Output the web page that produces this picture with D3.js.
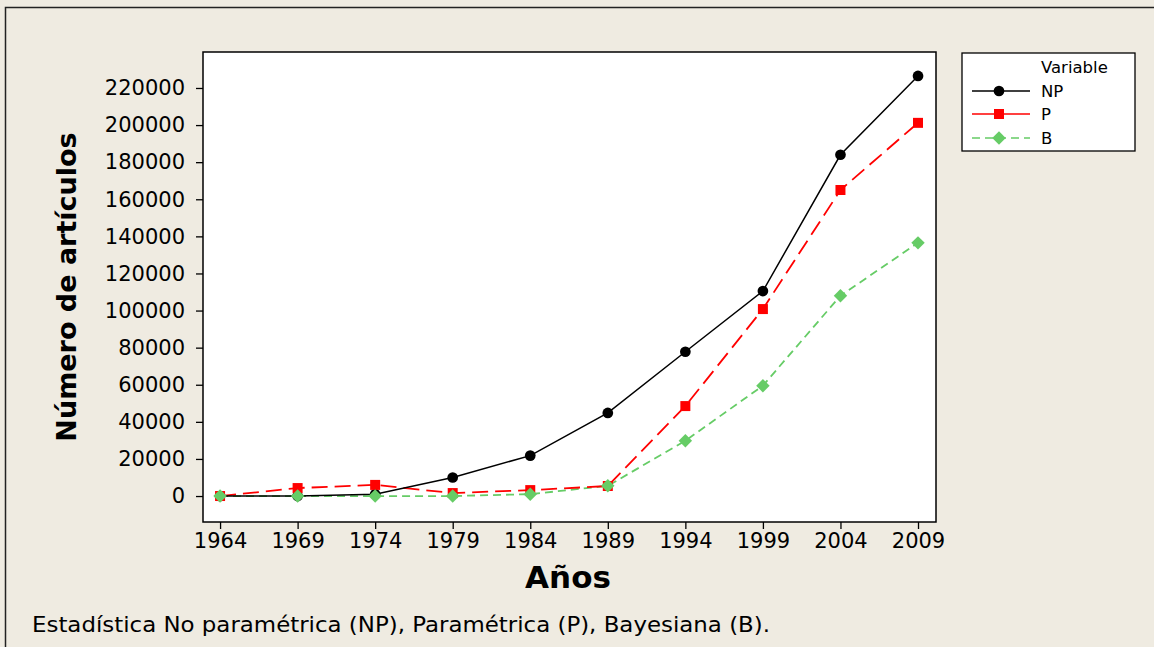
<!DOCTYPE html>
<html>
<head>
<meta charset="utf-8">
<script src="https://cdn.jsdelivr.net/npm/d3@7"></script>
<style>
  html, body { margin: 0; padding: 0; background: #efebe1; }
  svg { display: block; }
  text { font-family: "DejaVu Sans", Verdana, sans-serif; fill: #000; }
</style>
</head>
<body>
<svg id="chart" width="1154" height="647"></svg>
<script>
const years = [1964, 1969, 1974, 1979, 1984, 1989, 1994, 1999, 2004, 2009];
const seriesNames = ["NP", "P", "B"];
const valuesNP = [0, 0, 1000, 10000, 21800, 44800, 77800, 110500, 184000, 226500];
const valuesP  = [0, 4300, 6000, 1600, 3200, 5400, 48500, 100800, 165000, 201200];
const valuesB  = [0, 0, 0, 0, 1000, 5500, 29800, 59500, 108000, 136500];
const yTicks = [0, 20000, 40000, 60000, 80000, 100000, 120000, 140000, 160000, 180000, 200000, 220000];
const xLabel = "Años";
const yLabel = "Número de artículos";
const legendTitle = "Variable";
const caption = "Estadística No paramétrica (NP), Paramétrica (P), Bayesiana (B).";

const svg = d3.select("#chart");
const W = 1154, H = 647;

// outer frame (open at right/bottom as cropped)
svg.append("rect").attr("x", 0).attr("y", 0).attr("width", W).attr("height", H).attr("fill", "#efebe1");
svg.append("path").attr("d", `M5.5,${H} L5.5,7.5 L${W},7.5`).attr("fill", "none").attr("stroke", "#222").attr("stroke-width", 1.5);

const plot = { left: 203, top: 52, right: 936, bottom: 522 };
svg.append("rect").attr("x", plot.left).attr("y", plot.top)
  .attr("width", plot.right - plot.left).attr("height", plot.bottom - plot.top)
  .attr("fill", "#fff").attr("stroke", "#000").attr("stroke-width", 1.5);

const x = d3.scaleLinear().domain([1962.9, 2010.16]).range([plot.left, plot.right]);
const y = d3.scaleLinear().domain([-14000, 239400]).range([plot.bottom, plot.top]);

// axes
const xAxis = d3.axisBottom(x).tickValues(years).tickFormat(d3.format("d")).tickSize(7).tickPadding(4);
const gx = svg.append("g").attr("transform", `translate(0,${plot.bottom})`).call(xAxis);
gx.select(".domain").remove();
gx.selectAll("line").attr("stroke", "#000").attr("stroke-width", 1.3);
gx.selectAll("text").attr("font-size", 21).attr("font-family", "DejaVu Sans, Verdana, sans-serif").attr("fill", "#000");

const yAxis = d3.axisLeft(y).tickValues(yTicks).tickFormat(d3.format("d")).tickSize(7).tickPadding(11);
const gy = svg.append("g").attr("transform", `translate(${plot.left},0)`).call(yAxis);
gy.select(".domain").remove();
gy.selectAll("line").attr("stroke", "#000").attr("stroke-width", 1.3);
gy.selectAll("text").attr("font-size", 21).attr("font-family", "DejaVu Sans, Verdana, sans-serif").attr("fill", "#000");

// axis titles
svg.append("text").attr("x", 568).attr("y", 588)
  .attr("text-anchor", "middle").attr("font-size", 31).attr("font-weight", "bold").text(xLabel);
svg.append("text").attr("transform", `translate(76,287) rotate(-90)`)
  .attr("text-anchor", "middle").attr("font-size", 27).attr("font-weight", "bold").text(yLabel);

// caption
svg.append("text").attr("x", 32).attr("y", 632).attr("font-size", 21.5)
  .attr("textLength", 738).attr("lengthAdjust", "spacingAndGlyphs").text(caption);

const styles = {
  NP: { color: "#000000", dash: null, width: 1.5, marker: "circle" },
  P:  { color: "#ff0000", dash: "16,7", width: 1.8, marker: "square" },
  B:  { color: "#66cc66", dash: "8,5", width: 1.8, marker: "diamond" }
};
const dataMap = { NP: valuesNP, P: valuesP, B: valuesB };

const line = d3.line().x(d => x(d[0])).y(d => y(d[1]));
const symbolFor = m => m === "circle" ? d3.symbol().type(d3.symbolCircle).size(90)
  : m === "square" ? d3.symbol().type(d3.symbolSquare).size(100)
  : d3.symbol().type(d3.symbolDiamond2).size(115);

svg.append("defs").append("clipPath").attr("id", "pclip")
  .append("rect").attr("x", plot.left).attr("y", plot.top).attr("width", plot.right - plot.left).attr("height", plot.bottom - plot.top);

const drawOrder = ["B", "P", "NP"];
drawOrder.forEach(name => {
  const st = styles[name];
  const pts = years.map((yr, i) => [yr, dataMap[name][i]]);
  const g = svg.append("g").attr("clip-path", "url(#pclip)");
  g.append("path").attr("d", line(pts)).attr("fill", "none")
    .attr("stroke", st.color).attr("stroke-width", st.width)
    .attr("stroke-dasharray", st.dash);
});
["NP", "P", "B"].forEach(name => {
  const st = styles[name];
  const pts = years.map((yr, i) => [yr, dataMap[name][i]]);
  const sym = symbolFor(st.marker);
  svg.append("g").selectAll("path").data(pts).join("path")
    .attr("transform", d => `translate(${x(d[0])},${y(d[1])})`)
    .attr("d", sym).attr("fill", st.color);
});

// legend
const lg = svg.append("g");
lg.append("rect").attr("x", 962).attr("y", 53).attr("width", 173).attr("height", 98)
  .attr("fill", "#fff").attr("stroke", "#000").attr("stroke-width", 1.3);
lg.append("text").attr("x", 1041).attr("y", 73).attr("font-size", 16.5).text(legendTitle);
const legY = [91, 114, 138];
const legDash = { NP: null, P: null, B: "8,5" };
seriesNames.forEach((name, i) => {
  const st = styles[name];
  lg.append("line").attr("x1", 972).attr("x2", 1030).attr("y1", legY[i]).attr("y2", legY[i])
    .attr("stroke", st.color).attr("stroke-width", 1.5).attr("stroke-dasharray", legDash[name]);
  lg.append("path").attr("transform", `translate(999,${legY[i]})`).attr("d", symbolFor(st.marker)).attr("fill", st.color);
  lg.append("text").attr("x", 1041).attr("y", legY[i] + 6).attr("font-size", 16.5).text(name);
});
</script>
</body>
</html>
